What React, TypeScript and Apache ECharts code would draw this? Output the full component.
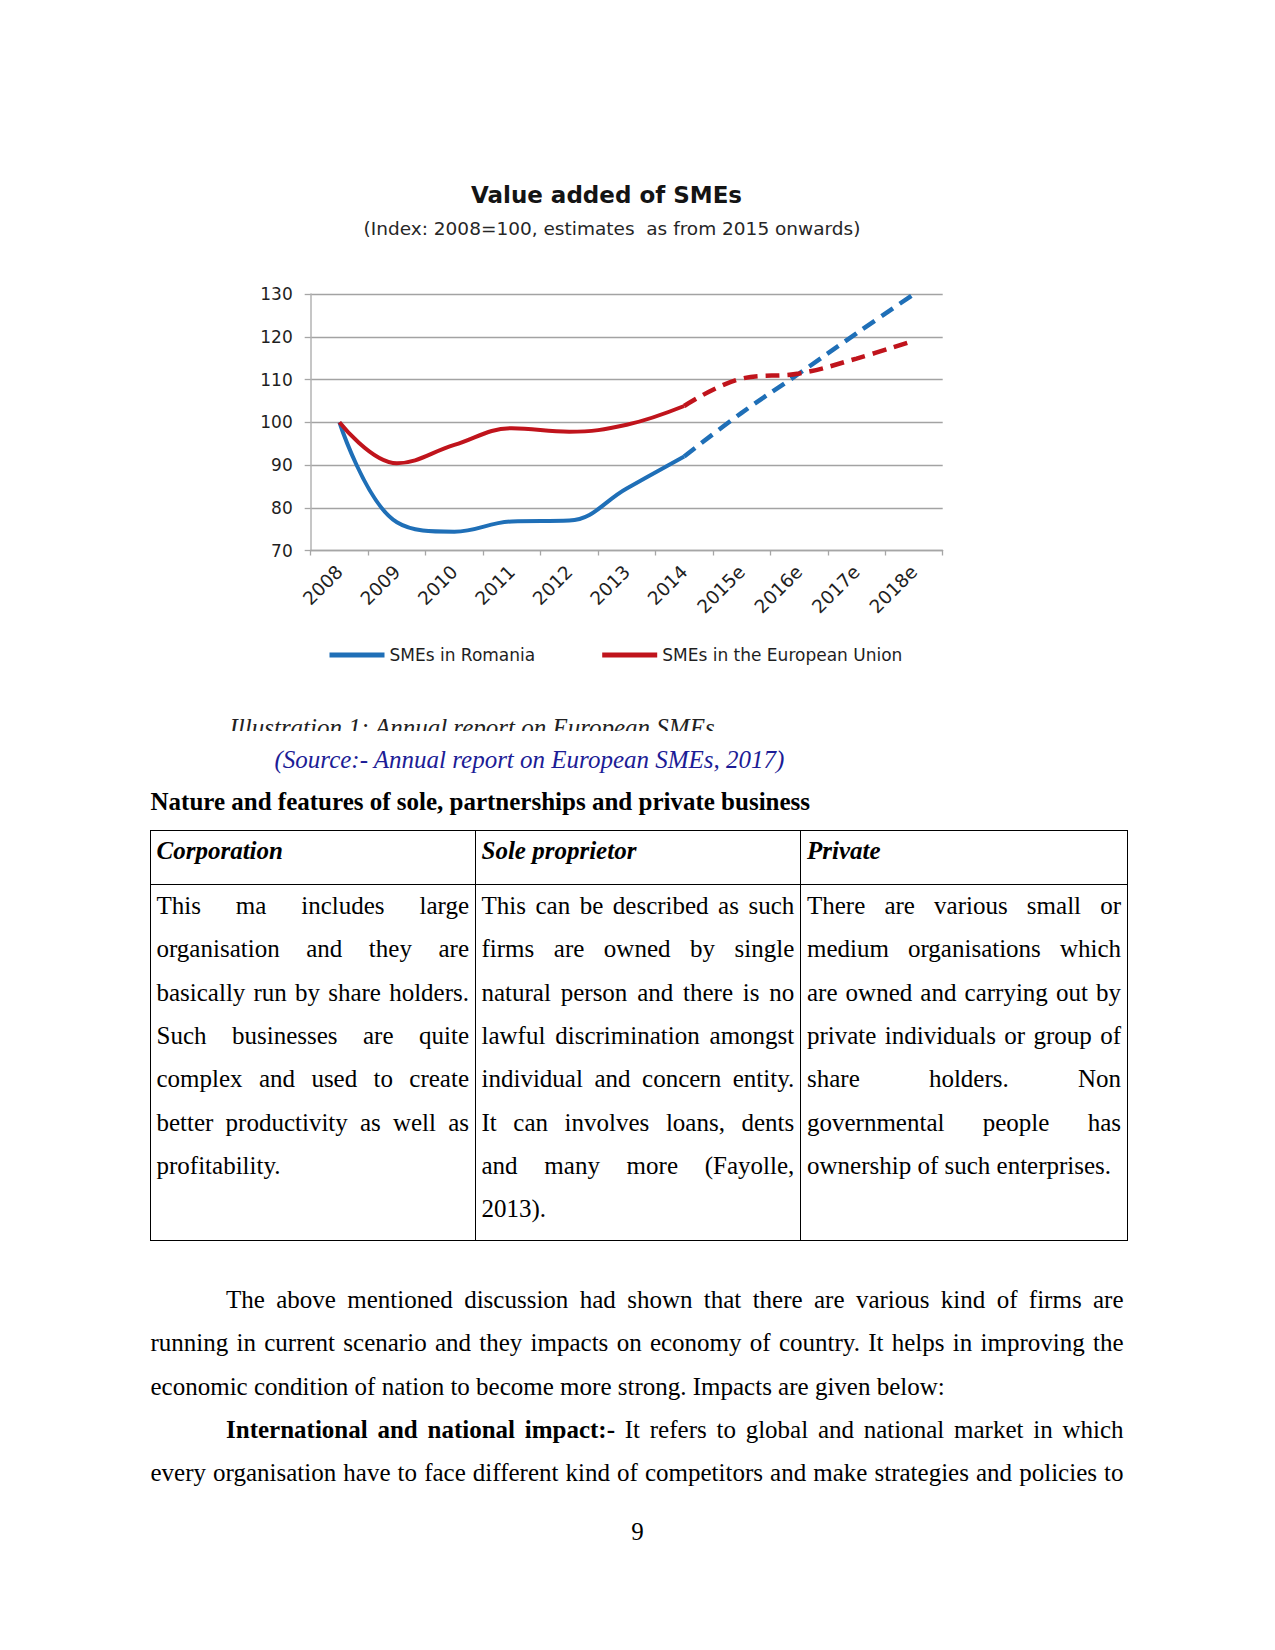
import React, { useEffect, useRef } from "react";
import * as echarts from "echarts";

// ---------- chart data ----------
const categories = ["2008", "2009", "2010", "2011", "2012", "2013", "2014", "2015e", "2016e", "2017e", "2018e"];
const romaniaValues = [100, 76.6, 74.4, 76.8, 77.0, 84.5, 92.0, 102.2, 111.4, 120.8, 130.0];
const euValues = [100, 90.4, 94.7, 98.6, 97.8, 99.4, 103.8, 110.2, 111.4, 114.9, 119.1];
const lastActualIndex = 6; // 2014 — estimates from 2015 onwards
const yMin = 70;
const yMax = 130;
const yInterval = 10;
const seriesNames = ["SMEs in Romania", "SMEs in the European Union"];
const chartTitle = "Value added of SMEs";
const chartSubtitle = "(Index: 2008=100, estimates  as from 2015 onwards)";

// ---------- document text ----------
const captionText = "Illustration 1: Annual report on European SMEs";
const sourceText = "(Source:- Annual report on European SMEs, 2017)";
const sectionHeading = "Nature and features of sole, partnerships and private business";
const tableHeaders = ["Corporation", "Sole proprietor", "Private"];
const corporationLines = [
  "This ma includes large",
  "organisation and they are",
  "basically run by share holders.",
  "Such businesses are quite",
  "complex and used to create",
  "better productivity as well as",
  "profitability.",
];
const soleLines = [
  "This can be described as such",
  "firms are owned by single",
  "natural person and there is no",
  "lawful discrimination amongst",
  "individual and concern entity.",
  "It can involves loans, dents",
  "and many more (Fayolle,",
  "2013).",
];
const privateLines = [
  "There are various small or",
  "medium organisations which",
  "are owned and carrying out by",
  "private individuals or group of",
  "share holders. Non",
  "governmental people has",
  "ownership of such enterprises.",
];
const paragraphLines = [
  "The above mentioned discussion had shown that there are various kind of firms are",
  "running in current scenario and they impacts on economy of country. It helps in improving the",
  "economic condition of nation to become more strong. Impacts are given below:",
];
const impactBold = "International and national impact:-";
const impactLines = [
  " It refers to global and national market in which",
  "every organisation have to face different kind of competitors and make strategies and policies to",
];
const pageNumber = "9";

// ---------- styles ----------
const BLUE = "#1f6fb7";
const RED = "#c0141c";
const CHART_FONT = '"DejaVu Sans", "Liberation Sans", Arial, sans-serif';
const SERIF = '"Liberation Serif", "Times New Roman", serif';
const LABEL_COLOR = "#1f1f1f";
const LINE_H = 43;
const BASE_OFF = 29.94; // baseline offset inside a 43px line box for 25px Liberation Serif
const ROW_STEP = 43.33;

function splitActual(vals: number[]) {
  return vals.map((v, i) => (i <= lastActualIndex ? v : null));
}
function splitEstimate(vals: number[]) {
  return vals.map((v, i) => (i >= lastActualIndex ? v : null));
}

type LineProps = {
  x: number;
  w: number;
  baseline: number;
  justify?: boolean;
  bold?: boolean;
  italic?: boolean;
  color?: string;
  children: React.ReactNode;
};

function TextLine({ x, w, baseline, justify, bold, italic, color, children }: LineProps) {
  return (
    <div
      style={{
        position: "absolute",
        left: x,
        top: baseline - BASE_OFF,
        width: w,
        height: LINE_H,
        lineHeight: LINE_H + "px",
        fontSize: 25,
        fontFamily: SERIF,
        fontWeight: bold ? "bold" : "normal",
        fontStyle: italic ? "italic" : "normal",
        color: color || "#000",
        textAlign: justify ? "justify" : "left",
        textAlignLast: justify ? "justify" : "left",
        whiteSpace: "normal",
        overflow: "visible",
      }}
    >
      {children}
    </div>
  );
}

function Chart() {
  const ref = useRef<HTMLDivElement>(null);
  useEffect(() => {
    if (!ref.current) return;
    const chart = echarts.init(ref.current, null, { renderer: "svg" });
    const lineBase = { type: "line", symbol: "none", showSymbol: false, smooth: 0.4, emphasis: { disabled: true } };
    const dash = [14, 8];
    chart.setOption({
      animation: false,
      textStyle: { fontFamily: CHART_FONT },
      graphic: [
        {
          type: "text",
          x: 606.5,
          y: 194.7,
          style: {
            text: chartTitle,
            fontFamily: CHART_FONT,
            fontSize: 23,
            fontWeight: "bold",
            fill: "#141414",
            align: "center",
            verticalAlign: "middle",
          },
        },
        {
          type: "text",
          x: 612,
          y: 228.5,
          style: {
            text: chartSubtitle,
            fontFamily: CHART_FONT,
            fontSize: 18.5,
            fill: "#262626",
            align: "center",
            verticalAlign: "middle",
          },
        },
      ],
      legend: {
        data: seriesNames,
        left: 324.5,
        top: 641.5,
        icon: "rect",
        itemWidth: 55,
        itemHeight: 5,
        itemGap: 67,
        selectedMode: false,
        textStyle: { fontSize: 17, color: LABEL_COLOR, fontFamily: CHART_FONT },
      },
      grid: { left: 310.7, top: 294, width: 632, height: 256.5, containLabel: false },
      xAxis: {
        type: "category",
        data: categories,
        boundaryGap: true,
        axisLine: { show: true, lineStyle: { color: "#a6a6a6", width: 1.3 } },
        axisTick: { show: true, length: 5, lineStyle: { color: "#a6a6a6", width: 1.3 } },
        axisLabel: { rotate: 45, margin: 18, fontSize: 18.5, color: LABEL_COLOR, interval: 0, fontFamily: CHART_FONT },
        splitLine: { show: false },
      },
      yAxis: {
        type: "value",
        min: yMin,
        max: yMax,
        interval: yInterval,
        axisLine: { show: true, lineStyle: { color: "#b3b3b3", width: 1.5 } },
        axisTick: { show: true, length: 6, lineStyle: { color: "#a6a6a6", width: 1.3 } },
        axisLabel: { margin: 18, fontSize: 17, color: LABEL_COLOR, fontFamily: CHART_FONT },
        splitLine: { show: true, lineStyle: { color: "#a3a3a3", width: 1.3 } },
      },
      series: [
        { ...lineBase, name: seriesNames[0], data: splitActual(romaniaValues), itemStyle: { color: BLUE }, lineStyle: { color: BLUE, width: 4 } },
        { ...lineBase, name: seriesNames[0], data: splitEstimate(romaniaValues), itemStyle: { color: BLUE }, lineStyle: { color: BLUE, width: 4.5, type: dash } },
        { ...lineBase, name: seriesNames[1], data: splitActual(euValues), itemStyle: { color: RED }, lineStyle: { color: RED, width: 4 } },
        { ...lineBase, name: seriesNames[1], data: splitEstimate(euValues), itemStyle: { color: RED }, lineStyle: { color: RED, width: 4.5, type: dash } },
      ],
    } as any);
    return () => chart.dispose();
  }, []);
  return <div ref={ref} style={{ position: "absolute", left: 0, top: 0, width: 1275, height: 690 }} />;
}

export default function App() {
  const colLefts = [156.5, 481.5, 807];
  const colWidths = [312.5, 312.8, 314];
  const cols = [corporationLines, soleLines, privateLines];
  const bodyBase0 = 914;
  const border = "#000";
  return (
    <div style={{ position: "absolute", left: 0, top: 0, width: 1275, height: 1650, background: "#fff", overflow: "hidden" }}>
      <Chart />

      {/* caption, clipped at its lower part as in the reference */}
      <div style={{ position: "absolute", left: 229.5, top: 700, width: 600, height: 31, overflow: "hidden" }}>
        <div
          style={{
            position: "absolute",
            left: 0,
            top: 736 - BASE_OFF - 700,
            height: LINE_H,
            lineHeight: LINE_H + "px",
            fontSize: 25,
            fontFamily: SERIF,
            fontStyle: "italic",
            color: "#222",
            whiteSpace: "nowrap",
          }}
        >
          {captionText}
        </div>
      </div>

      <TextLine x={274.5} w={700} baseline={768} italic color="#1c1c96">{sourceText}</TextLine>
      <TextLine x={150.5} w={980} baseline={810} bold>{sectionHeading}</TextLine>

      {/* table borders */}
      <div style={{ position: "absolute", left: 150, top: 830, width: 978, height: 1, background: border }} />
      <div style={{ position: "absolute", left: 150, top: 884, width: 978, height: 1, background: border }} />
      <div style={{ position: "absolute", left: 150, top: 1240, width: 978, height: 1, background: border }} />
      {[150, 475, 800, 1127].map((x, i) => (
        <div key={"v" + i} style={{ position: "absolute", left: x, top: 830, width: 1, height: 411, background: border }} />
      ))}

      {tableHeaders.map((h, i) => (
        <TextLine key={"h" + i} x={colLefts[i]} w={colWidths[i]} baseline={859.3} bold italic>{h}</TextLine>
      ))}

      {cols.map((lines, c) =>
        lines.map((t, r) => (
          <TextLine
            key={"c" + c + "r" + r}
            x={colLefts[c]}
            w={colWidths[c]}
            baseline={bodyBase0 + r * ROW_STEP}
            justify={r < lines.length - 1}
          >
            {t}
          </TextLine>
        ))
      )}

      {/* paragraph */}
      <TextLine x={226} w={1123.5 - 226} baseline={1308} justify>{paragraphLines[0]}</TextLine>
      <TextLine x={150.5} w={973} baseline={1308 + ROW_STEP} justify>{paragraphLines[1]}</TextLine>
      <TextLine x={150.5} w={973} baseline={1308 + 2 * ROW_STEP}>{paragraphLines[2]}</TextLine>
      <TextLine x={226} w={1123.5 - 226} baseline={1308 + 3 * ROW_STEP} justify>
        <b>{impactBold}</b>
        {impactLines[0]}
      </TextLine>
      <TextLine x={150.5} w={973} baseline={1308 + 4 * ROW_STEP} justify>{impactLines[1]}</TextLine>

      <div
        style={{
          position: "absolute",
          left: 0,
          width: 1275,
          top: 1540 - BASE_OFF,
          height: LINE_H,
          lineHeight: LINE_H + "px",
          fontSize: 25,
          fontFamily: SERIF,
          textAlign: "center",
        }}
      >
        {pageNumber}
      </div>
    </div>
  );
}
